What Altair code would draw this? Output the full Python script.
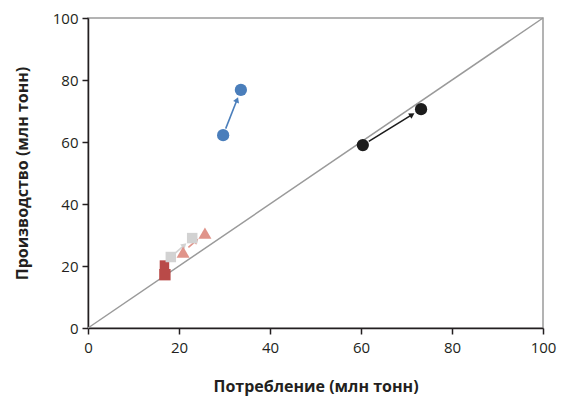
import math
import altair as alt
import pandas as pd

# ---- data ----
series = ["blue", "black", "red_low", "red_high", "gray", "pink"]
start_x = [29.7, 60.4, 16.9, 16.8, 18.2, 20.9]
start_y = [62.2, 59.0, 17.2, 20.3, 22.9, 24.5]
end_x = [33.6, 73.2, None, None, 22.9, 25.7]
end_y = [76.8, 70.6, None, None, 29.0, 30.6]
shapes = ["circle", "circle", "square", "square", "square", "triangle-up"]
colors = ["#4a7ebb", "#1c1c1c", "#b94a48", "#b94a48", "#d2d2d2", "#e0948a"]
sizes = [150, 150, 130, 90, 110, 170]
has_arrow = [True, True, False, False, True, True]

x_ticks = [0, 20, 40, 60, 80, 100]
y_ticks = [0, 20, 40, 60, 80, 100]
x_title = "Потребление (млн тонн)"
y_title = "Производство (млн тонн)"

W, H = 455, 310
px_x, px_y = W / 100.0, H / 100.0
gap_start = [7, 7, 0, 0, 6, 7]
gap_end = [7, 7, 0, 0, 7, 8]
head_len = 7

pts = []
for i, s in enumerate(series):
    pts.append(dict(s=s, x=start_x[i], y=start_y[i], shape=shapes[i], color=colors[i], size=sizes[i]))
    if end_x[i] is not None:
        pts.append(dict(s=s, x=end_x[i], y=end_y[i], shape=shapes[i], color=colors[i], size=sizes[i]))
pts_df = pd.DataFrame(pts)

segs, heads = [], []
for i, s in enumerate(series):
    if not has_arrow[i]:
        continue
    dxp = (end_x[i] - start_x[i]) * px_x
    dyp = (end_y[i] - start_y[i]) * px_y
    L = math.hypot(dxp, dyp)
    ux, uy = dxp / L, dyp / L
    sx = start_x[i] + ux * gap_start[i] / px_x
    sy = start_y[i] + uy * gap_start[i] / px_y
    tx = end_x[i] - ux * gap_end[i] / px_x
    ty = end_y[i] - uy * gap_end[i] / px_y
    hx = tx - ux * (head_len / 2) / px_x
    hy = ty - uy * (head_len / 2) / px_y
    ang = math.degrees(math.atan2(dxp, dyp)) % 360
    segs.append(dict(s=s, x=sx, y=sy, x2=hx, y2=hy, color=colors[i]))
    heads.append(dict(s=s, x=hx, y=hy, angle=ang, color=colors[i]))
segs_df = pd.DataFrame(segs)
heads_df = pd.DataFrame(heads)
diag_df = pd.DataFrame({"x": [0], "y": [0], "x2": [100], "y2": [100]})

xs = alt.Scale(domain=[0, 100], nice=False, zero=True)
ys = alt.Scale(domain=[0, 100], nice=False, zero=True)

xax = alt.Axis(values=x_ticks, title=x_title, grid=False, tickSize=6, labelPadding=6,
               titlePadding=23, labelFlush=False)
yax = alt.Axis(values=y_ticks, title=y_title, grid=False, tickSize=6, labelPadding=4,
               titlePadding=22, labelFlush=False)

diag = alt.Chart(diag_df).mark_rule(color="#9a9a9a", strokeWidth=1.5).encode(
    x=alt.X("x:Q", scale=xs, axis=xax), y=alt.Y("y:Q", scale=ys, axis=yax),
    x2="x2:Q", y2="y2:Q")

seg = alt.Chart(segs_df).mark_rule(strokeWidth=1.6).encode(
    x=alt.X("x:Q", scale=xs), y=alt.Y("y:Q", scale=ys), x2="x2:Q", y2="y2:Q",
    color=alt.Color("color:N", scale=None))

head = alt.Chart(heads_df).mark_point(shape="triangle-up", filled=True, opacity=1, size=40).encode(
    x=alt.X("x:Q", scale=xs), y=alt.Y("y:Q", scale=ys),
    angle=alt.Angle("angle:Q", scale=None),
    color=alt.Color("color:N", scale=None))

points = alt.Chart(pts_df).mark_point(filled=True, opacity=1).encode(
    x=alt.X("x:Q", scale=xs), y=alt.Y("y:Q", scale=ys),
    shape=alt.Shape("shape:N", scale=None),
    size=alt.Size("size:Q", scale=None),
    color=alt.Color("color:N", scale=None))

chart = alt.layer(diag, seg, head, points).properties(
    width=W, height=H,
    autosize=alt.AutoSizeParams(type="none"),
    padding={"left": 80, "top": 10, "right": 15, "bottom": 72},
).configure_view(stroke="#9a9a9a", strokeWidth=1.5).configure_axis(
    domainColor="#231f20", domainWidth=1.5, tickColor="#231f20", tickWidth=1.5,
    labelFont="Open Sans", labelFontSize=15, labelColor="#231f20",
    titleFont="Open Sans", titleFontSize=16, titleFontWeight="bold", titleColor="#231f20",
)

chart.save("out.html", embed_options={"renderer": "svg", "actions": False})
